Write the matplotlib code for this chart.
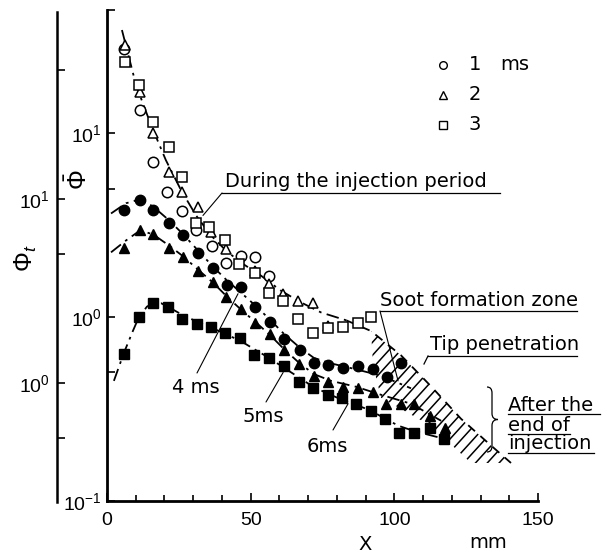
import numpy as np
import matplotlib
matplotlib.use("Agg")
import matplotlib.pyplot as plt
from matplotlib.lines import Line2D
from matplotlib.patches import PathPatch, Polygon
from matplotlib.path import Path
from matplotlib.collections import LineCollection
from matplotlib.transforms import IdentityTransform
import matplotlib.ticker as mticker

W, H = 613, 554
DPI = 100

plt.rcParams['font.family'] = ['DejaVu Sans']
plt.rcParams['mathtext.fontset'] = 'custom'
plt.rcParams['mathtext.rm'] = 'Liberation Sans'
plt.rcParams['mathtext.it'] = 'Liberation Sans:italic'
plt.rcParams['mathtext.bf'] = 'Liberation Sans:bold'

# ---------------- data ----------------
# during injection (open symbols)
x_1ms = [6, 11.5, 16, 21, 26, 31, 36.5, 41.5, 46.5, 51.5, 56.5]
y_1ms = [28.7, 13.3, 6.95, 4.77, 3.76, 2.96, 2.45, 1.98, 2.16, 2.11, 1.68]

x_2ms = [6.3, 11.5, 16, 21.6, 26, 31.7, 36.2, 41.4, 51.5, 56.4, 61.3, 66.5, 71.7, 77]
y_2ms = [30.2, 16.7, 10.0, 6.13, 4.77, 3.95, 2.89, 2.36, 1.79, 1.52, 1.34, 1.23, 1.19, 0.90]

x_3ms = [6.3, 11.1, 16, 21.6, 26, 31, 35.5, 41, 46, 51.5, 56.4, 61.3, 66.5, 71.7, 77, 82, 87.4, 92]
y_3ms = [24.4, 18.3, 11.5, 8.4, 5.75, 3.23, 3.08, 2.64, 1.95, 1.73, 1.36, 1.23, 0.98, 0.82, 0.87, 0.88, 0.93, 1.0]

# after end of injection (filled symbols)
x_4ms = [6, 11.5, 16, 21.6, 26.5, 31.7, 36.9, 41.8, 46.6, 51.5, 56.7, 61.6, 67.2, 72, 77, 82, 87.4, 92.6, 97.5, 102.3]
y_4ms = [3.80, 4.31, 3.80, 3.23, 2.78, 2.22, 1.84, 1.49, 1.45, 1.13, 0.945, 0.76, 0.665, 0.56, 0.55, 0.53, 0.54, 0.52, 0.47, 0.56]

x_5ms = [6, 11.5, 16, 21.6, 26.5, 31.7, 36.9, 41.4, 46.6, 51.5, 56.7, 61.6, 66.8, 72, 77, 82, 87.4, 92.6, 97, 102.3, 107, 112.4, 117.6]
y_5ms = [2.39, 2.96, 2.82, 2.39, 2.11, 1.79, 1.56, 1.29, 1.10, 0.93, 0.81, 0.665, 0.558, 0.48, 0.445, 0.418, 0.413, 0.393, 0.338, 0.338, 0.338, 0.29, 0.25]

x_6ms = [5.9, 11.1, 16, 21.2, 26, 31.3, 36.2, 41, 46.3, 51.2, 56.4, 61.6, 66.8, 71.7, 77, 81.8, 86.7, 91.9, 96.8, 101.6, 106.9, 112.4, 117.3]
y_6ms = [0.63, 1.0, 1.19, 1.13, 0.98, 0.92, 0.88, 0.82, 0.77, 0.625, 0.60, 0.54, 0.445, 0.413, 0.378, 0.364, 0.338, 0.31, 0.28, 0.235, 0.235, 0.25, 0.218]

# drawn trend curves
curve_inj_x = [5.2, 10.1, 15.3, 20.5, 25.8, 31, 36.2, 41.4, 46.6, 53.6, 60.6, 67.6, 74.5, 83.3]
curve_inj_y = [36.4, 18.3, 11.1, 7.13, 4.89, 3.57, 2.78, 2.30, 1.98, 1.68, 1.39, 1.20, 1.06, 0.96]

tip_x = [83.3, 91.9, 102.3, 112.8, 123.2, 133.7, 140.6]
tip_y = [0.96, 0.84, 0.62, 0.42, 0.28, 0.20, 0.161]

curve_4_x = [1.4, 6.6, 11.5, 16, 21.6, 26.5, 31.7, 36.9, 41.8, 46.6, 51.5, 56.7, 61.6, 67.2, 72, 78, 86.7, 95.4, 105.8]
curve_4_y = [3.66, 4.16, 4.37, 4.0, 3.36, 2.82, 2.30, 1.88, 1.58, 1.36, 1.16, 0.97, 0.81, 0.68, 0.60, 0.56, 0.52, 0.48, 0.41]

curve_5_x = [1.4, 6.6, 11.5, 16, 21.6, 26.5, 31.7, 36.9, 41.8, 46.6, 51.5, 56.7, 61.6, 66.8, 72, 78, 86.7, 95.4, 105.8, 116.3]
curve_5_y = [2.25, 2.61, 2.96, 2.82, 2.45, 2.14, 1.81, 1.54, 1.29, 1.10, 0.945, 0.80, 0.67, 0.565, 0.49, 0.45, 0.418, 0.378, 0.338, 0.273]

curve_6_x = [2.4, 5.9, 9.0, 11.1, 13.9, 16.0, 18.8, 21.2, 26.1, 31.3, 36.2, 41.1, 46.3, 51.2, 56.4, 61.6, 66.8, 71.7, 77, 81.8, 86.7, 91.9, 96.8, 101.6, 106.9, 117.3]
curve_6_y = [0.45, 0.64, 0.84, 1.0, 1.14, 1.19, 1.19, 1.14, 1.03, 0.945, 0.88, 0.81, 0.745, 0.67, 0.60, 0.53, 0.47, 0.418, 0.383, 0.355, 0.333, 0.31, 0.28, 0.256, 0.24, 0.218]

# soot formation zone (hatched band)
zone_upper_x = [91.9, 102.3, 112.8, 123.2, 133.7, 140.6]
zone_upper_y = [0.84, 0.62, 0.42, 0.28, 0.20, 0.161]
zone_lower_x = [92.6, 95.4, 112.8, 126.7]
zone_lower_y = [0.544, 0.364, 0.256, 0.161]

x_ticks = [0, 50, 100, 150]
x_ticklabels = ['0', '50', '100', '150']
y_ticks = [0.1, 0.5, 1, 5, 10]
y_ticklabels = [r'$10^{-1}$', '', r'$10^{0}$', '', r'$10^{1}$']
yt_ticks = [0.5, 1, 5, 10, 50]
yt_ticklabels = ['', r'$10^{0}$', '', r'$10^{1}$', '']

# ---------------- figure ----------------
fig = plt.figure(figsize=(W / DPI, H / DPI), dpi=DPI)
fig.patch.set_facecolor('white')


def F(px, py):
    return (px / W, 1 - py / H)


ax = fig.add_axes([107 / W, 1 - 501 / H, 431 / W, 491 / H])
ax.set_facecolor('none')
ax.set_yscale('log')
ax.set_xlim(0, 150)
ax.set_ylim(0.1, 10 ** 1.67)
for s in ['top', 'right']:
    ax.spines[s].set_visible(False)
ax.spines['left'].set_linewidth(2.0)
ax.spines['bottom'].set_linewidth(2.0)

ax.set_xticks(x_ticks)
ax.set_xticklabels(x_ticklabels, fontfamily='Liberation Sans', fontsize=14)
ax.xaxis.set_minor_locator(mticker.MultipleLocator(10))
ax.tick_params(axis='x', which='major', direction='in', length=6, width=1.2, pad=8)
ax.tick_params(axis='x', which='minor', direction='in', length=4, width=1.2)

ax.set_yticks(y_ticks + [10 ** 1.67])
ax.set_yticklabels(y_ticklabels + [''])
ax.yaxis.set_minor_locator(mticker.NullLocator())
ax.tick_params(axis='y', which='major', direction='in', length=6, width=1.2,
               pad=4, labelsize=14)

# outer (Phi_t) axis
ax2 = fig.add_axes([57 / W, 1 - 502 / H, 1e-4, 490 / H])
ax2.set_facecolor('none')
ax2.set_yscale('log')
ax2.set_ylim(10 ** -0.647, 10 ** 2.016)
ax2.set_xticks([])
for s in ['top', 'right', 'bottom']:
    ax2.spines[s].set_visible(False)
ax2.spines['left'].set_linewidth(1.8)
ax2.set_yticks(yt_ticks)
ax2.set_yticklabels(yt_ticklabels)
ax2.yaxis.set_minor_locator(mticker.NullLocator())
ax2.tick_params(axis='y', which='major', direction='in', length=6, width=1.2,
                pad=5, labelsize=14)

fig.text(*F(26, 258), r'$\Phi_t$', rotation=90, fontsize=18, ha='center', va='center')
fig.text(*F(79, 180), r'$\bar{\Phi}$', rotation=90, fontsize=18, ha='center', va='center')

# hatched zone: outline (invisible) + diagonal strokes clipped to it
zx = list(zone_upper_x) + list(zone_lower_x[::-1])
zy = list(zone_upper_y) + list(zone_lower_y[::-1])
zone = Polygon(np.column_stack([zx, zy]), closed=True, facecolor='none',
               edgecolor='none', transform=ax.transData)
ax.add_patch(zone)
segs = [[(0, c), (W, c + W * 1.1)] for c in np.arange(-900, 600, 13)]
hatch = LineCollection(segs, colors='black', linewidths=1.1, transform=IdentityTransform(),
                       zorder=1)
hatch.set_clip_path(zone)
ax.add_collection(hatch, autolim=False)

# curves
lw = 1.3
ax.plot(curve_inj_x, curve_inj_y, color='black', lw=lw, dashes=(7, 3, 1.5, 3), zorder=2)
ax.plot(tip_x, tip_y, color='black', lw=lw, dashes=(5, 4), zorder=2)
ax.plot(curve_4_x, curve_4_y, color='black', lw=lw, dashes=(7, 3, 1.5, 3), zorder=2)
ax.plot(curve_5_x, curve_5_y, color='black', lw=lw, dashes=(7, 3, 1.5, 3), zorder=2)
ax.plot(curve_6_x, curve_6_y, color='black', lw=lw, dashes=(7, 3, 1.5, 3), zorder=2)

# markers
ms_o = 7.5
ax.plot(x_1ms, y_1ms, 'o', ms=ms_o, mfc='white', mec='black', mew=1.1, zorder=4)
ax.plot(x_2ms, y_2ms, '^', ms=ms_o, mfc='white', mec='black', mew=1.1, zorder=4)
ax.plot(x_3ms, y_3ms, 's', ms=6.8, mfc='white', mec='black', mew=1.1, zorder=4)
ax.plot(x_4ms, y_4ms, 'o', ms=ms_o, mfc='black', mec='black', zorder=4)
ax.plot(x_5ms, y_5ms, '^', ms=ms_o, mfc='black', mec='black', zorder=4)
ax.plot(x_6ms, y_6ms, 's', ms=6.8, mfc='black', mec='black', zorder=4)

# axis titles
fig.text(*F(365, 544), 'X', fontsize=14, ha='center', va='center')
fig.text(*F(488, 543), 'mm', fontsize=14, ha='center', va='center')

# legend (manual)
for (py, mk, lab) in [(65, 'o', '1'), (95, '^', '2'), (125, 's', '3')]:
    fig.add_artist(Line2D([443 / W], [1 - py / H], marker=mk, ms=5.5, mfc='white',
                          mec='black', mew=1.0, linestyle='none'))
    fig.text(*F(475, py), lab, fontsize=14, ha='center', va='center')
fig.text(*F(500, 65), 'ms', fontsize=14, ha='left', va='center')

# annotations
txt_kw = dict(fontsize=14, ha='left', va='baseline')
line_kw = dict(color='black', lw=0.9)


def hline(x0, x1, py):
    fig.add_artist(Line2D([x0 / W, x1 / W], [1 - py / H, 1 - py / H], **line_kw))


def leader(px, py, xd, yd):
    ax.annotate('', xy=(xd, yd), xycoords='data', xytext=F(px, py),
                textcoords='figure fraction',
                arrowprops=dict(arrowstyle='-', lw=0.8, color='black',
                                shrinkA=0, shrinkB=0), annotation_clip=False)


fig.text(*F(225, 187), 'During the injection period', **txt_kw)
hline(222, 500, 193)
leader(222, 193, 33.4, 3.57)

fig.text(*F(380, 306), 'Soot formation zone', **txt_kw)
hline(380, 577, 311)
leader(380, 311, 101.3, 0.45)

fig.text(*F(430, 350), 'Tip penetration', **txt_kw)
hline(428, 577, 356)
fig.add_artist(Line2D([428 / W, 424 / W], [1 - 356 / H, 1 - 364 / H], **line_kw))

fig.text(*F(508, 411), 'After the', **txt_kw)
hline(508, 600, 414)
fig.text(*F(508, 431), 'end of', **txt_kw)
hline(508, 570, 434)
fig.text(*F(508, 449), 'injection', **txt_kw)
hline(508, 594, 453)

# brace
bx, t, b = 492, 387, 452
m = (t + b) / 2
verts = [(bx - 5, t), (bx, t), (bx, t + 6), (bx, m - 6), (bx, m), (bx + 6, m),
         (bx, m), (bx, m + 6), (bx, b - 6), (bx, b), (bx - 5, b)]
codes = [Path.MOVETO, Path.CURVE3, Path.CURVE3, Path.LINETO, Path.CURVE3, Path.CURVE3,
         Path.CURVE3, Path.CURVE3, Path.LINETO, Path.CURVE3, Path.CURVE3]
verts_f = [(vx / W, 1 - vy / H) for vx, vy in verts]
fig.add_artist(PathPatch(Path(verts_f, codes), facecolor='none', edgecolor='black',
                         lw=0.9, transform=fig.transFigure))

fig.text(*F(172, 393), '4 ms', **txt_kw)
leader(197, 373, 45.6, 1.34)
fig.text(*F(242, 422), '5ms', **txt_kw)
leader(266, 402, 61.3, 0.50)
fig.text(*F(307, 452), '6ms', **txt_kw)
leader(333, 430, 83.9, 0.338)

fig.savefig('out.png', dpi=DPI, facecolor='white')
